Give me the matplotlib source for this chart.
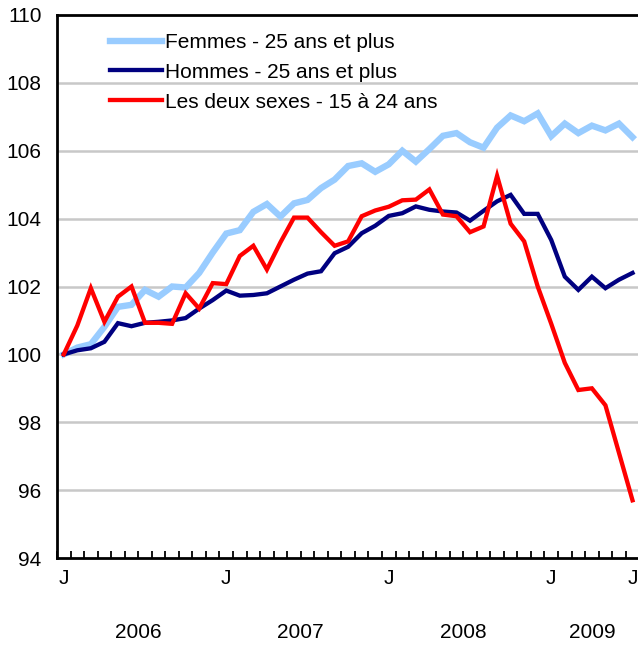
import matplotlib
matplotlib.use("Agg")
import matplotlib.pyplot as plt
import matplotlib.transforms as mtransforms

plt.rcParams['font.family'] = ['Liberation Sans', 'DejaVu Sans']

femmes = [100.0, 100.2, 100.3, 100.81, 101.4, 101.46, 101.9, 101.7, 102.0, 101.97,
          102.4, 103.0, 103.56, 103.66, 104.2, 104.43, 104.06, 104.45, 104.55, 104.9,
          105.15, 105.55, 105.63, 105.38, 105.6, 106.0, 105.68, 106.05, 106.44, 106.52,
          106.25, 106.09, 106.68, 107.04, 106.87, 107.1, 106.43, 106.8, 106.52, 106.74,
          106.6, 106.8, 106.4]
hommes = [100.0, 100.12, 100.18, 100.37, 100.92, 100.83, 100.93, 100.96, 101.0, 101.07,
          101.35, 101.6, 101.88, 101.73, 101.75, 101.8, 102.0, 102.2, 102.38, 102.45,
          102.98, 103.17, 103.57, 103.79, 104.08, 104.16, 104.36, 104.26, 104.21, 104.18,
          103.94, 104.23, 104.51, 104.7, 104.14, 104.14, 103.37, 102.29, 101.9, 102.29,
          101.95, 102.2, 102.4]
jeunes = [100.0, 100.85, 101.95, 100.96, 101.7, 102.0, 100.93, 100.93, 100.9, 101.8,
          101.35, 102.1, 102.07, 102.9, 103.2, 102.5, 103.3, 104.03, 104.03, 103.6,
          103.2, 103.33, 104.07, 104.24, 104.35, 104.54, 104.56, 104.86, 104.12, 104.07,
          103.6, 103.77, 105.26, 103.85, 103.33, 102.0, 100.9, 99.75, 98.95, 99.0,
          98.5, 97.1, 95.7]

labels = ["Femmes - 25 ans et plus", "Hommes - 25 ans et plus", "Les deux sexes - 15 à 24 ans"]
month_labels = {0: "J", 12: "J", 24: "J", 36: "J", 42: "J"}
year_labels = {5.5: "2006", 17.5: "2007", 29.5: "2008", 39: "2009"}
y_ticks = [94, 96, 98, 100, 102, 104, 106, 108, 110]

FS = 15

fig = plt.figure(figsize=(6.38, 6.47), dpi=100)
ax = fig.add_axes([57/638, (647-558)/647, 1 - 57/638 + 0.002, (558-15)/647])

x = list(range(len(femmes)))
ax.plot(x, femmes, color="#99CCFF", lw=4.6, label=labels[0], solid_joinstyle='miter', zorder=3)
ax.plot(x, hommes, color="#000080", lw=3.1, label=labels[1], solid_joinstyle='miter', zorder=4)
ax.plot(x, jeunes, color="#FF0000", lw=3.1, label=labels[2], solid_joinstyle='miter', zorder=5)

ax.set_xlim(-0.5, len(femmes) - 0.5)
ax.set_ylim(94, 110)
ax.set_yticks(y_ticks)
ax.set_yticklabels([str(v) for v in y_ticks], fontsize=FS)
ax.tick_params(axis='y', length=0, pad=11)
for v in y_ticks[1:-1]:
    ax.axhline(v, color="#C8C8C8", lw=1.8, zorder=1)

ax.set_xticks([i - 0.5 for i in range(len(femmes) + 1)])
ax.set_xticklabels([])
ax.tick_params(axis='x', direction='in', length=5, width=1.3, color='black')

for s in ['left', 'bottom', 'top', 'right']:
    ax.spines[s].set_linewidth(2)
    ax.spines[s].set_color('black')

trans = mtransforms.blended_transform_factory(ax.transData, fig.transFigure)
for k, t in month_labels.items():
    ax.text(k, 1 - 579/647, t, transform=trans, ha='center', va='center', fontsize=FS)
for k, t in year_labels.items():
    ax.text(k, 1 - 633/647, t, transform=trans, ha='center', va='center', fontsize=FS)

leg = ax.legend(loc='upper left', bbox_to_anchor=(0.07, 0.99), frameon=False, fontsize=FS,
                handlelength=2.5, handletextpad=0.15, labelspacing=0.52, borderaxespad=0.2)

fig.savefig("out.png", dpi=100)
